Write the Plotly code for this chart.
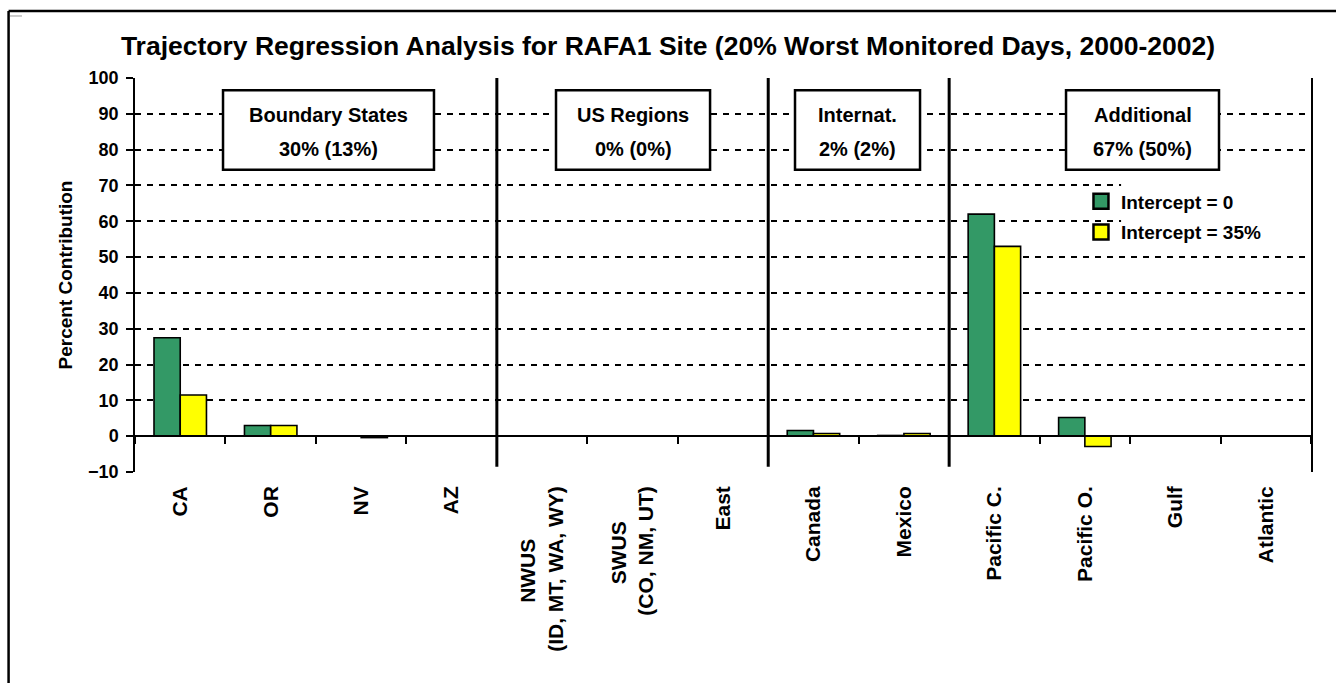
import plotly.graph_objects as go

categories = ["CA", "OR", "NV", "AZ", "NWUS<br>(ID, MT, WA, WY)", "SWUS<br>(CO, NM, UT)", "East",
              "Canada", "Mexico", "Pacific C.", "Pacific O.", "Gulf", "Atlantic"]
intercept_0 = [27.5, 3.0, 0.0, 0.0, 0.0, 0.0, 0.0, 1.6, 0.2, 62.0, 5.2, 0.0, 0.0]
intercept_35 = [11.5, 3.0, -0.4, 0.0, 0.0, 0.0, 0.0, 0.75, 0.75, 53.0, -2.9, 0.0, 0.0]
series_names = ["Intercept = 0", "Intercept = 35%"]

group_names = ["Boundary States", "US Regions", "Internat.", "Additional"]
group_shares = ["30% (13%)", "0% (0%)", "2% (2%)", "67% (50%)"]
group_sizes = [4, 3, 2, 4]

title = "Trajectory Regression Analysis for RAFA1 Site (20% Worst Monitored Days, 2000-2002)"
y_ticks = list(range(-10, 101, 10))

FONT = "Liberation Sans, Arial, sans-serif"
GREEN = "#339966"
YELLOW = "#FFFF00"
colors = [GREEN, YELLOW]


def centered_label(label):
    # centre the shorter line of a two-line (rotated) tick label on the longer one
    lines = label.split("<br>")
    if len(lines) < 2:
        return label
    longest = max(len(s) for s in lines)
    out = []
    for s in lines:
        pad = int(round((longest - len(s)) * 0.72))
        out.append(s + "\u00a0" * pad)
    return "<br>".join(out)


tick_text = [centered_label(c) for c in categories]

fig = go.Figure()
for name, vals, col in zip(series_names, [intercept_0, intercept_35], colors):
    fig.add_trace(go.Bar(x=categories, y=vals, name=name, showlegend=False,
                         marker=dict(color=col, line=dict(color="black", width=1.6))))
# legend entries (square keys)
for i, (name, col) in enumerate(zip(series_names, colors)):
    fig.add_trace(go.Scatter(x=[categories[0]], y=[None], mode="markers", name="<b>%s</b>" % name,
                             legendgroup="g%d" % i,
                             marker=dict(symbol="square", size=15, color=col,
                                         line=dict(color="black", width=2.5))))
# helper trace for the tick axis drawn at y = 0
fig.add_trace(go.Scatter(x=categories, y=[0] * len(categories), xaxis="x2", mode="markers",
                         marker=dict(opacity=0), showlegend=False, hoverinfo="skip"))

shapes = []
annotations = []
box_x = [(0.473, 2.805), (4.154, 5.857), (6.796, 8.178), (9.792, 11.483)]
start = 0
for i, n in enumerate(group_sizes):
    if i > 0:
        shapes.append(dict(type="line", xref="x", yref="y", x0=start - 0.5, x1=start - 0.5,
                           y0=-8.5, y1=100, line=dict(color="black", width=3)))
    x0, x1 = box_x[i]
    center = (x0 + x1) / 2
    shapes.append(dict(type="rect", xref="x", yref="y", x0=x0, x1=x1,
                       y0=74.4, y1=96.6, fillcolor="white", line=dict(color="black", width=2.5),
                       layer="above"))
    annotations.append(dict(x=center, y=89.8, xref="x", yref="y", text="<b>%s</b>" % group_names[i],
                            showarrow=False, font=dict(family=FONT, size=20, color="black")))
    annotations.append(dict(x=center, y=80.2, xref="x", yref="y", text="<b>%s</b>" % group_shares[i],
                            showarrow=False, font=dict(family=FONT, size=20, color="black")))
    start += n

# white legend background behind the legend text
shapes.append(dict(type="rect", xref="paper", yref="y", x0=0.8385, x1=0.999, y0=52, y1=71.5,
                   fillcolor="white", line=dict(width=0), layer="above"))

# outer frame
shapes.append(dict(type="line", xref="paper", yref="paper", x0=-0.1075, x1=1.03, y0=1.170, y1=1.170,
                   line=dict(color="black", width=2.5)))
shapes.append(dict(type="line", xref="paper", yref="paper", x0=-0.1075, x1=-0.1075, y0=1.170, y1=-0.6,
                   line=dict(color="black", width=2.5)))
shapes.append(dict(type="line", xref="paper", yref="paper", x0=-0.1063, x1=-0.0961, y0=1.1574, y1=1.1574,
                   line=dict(color="#999999", width=1)))

fig.update_layout(
    width=1336, height=683,
    margin=dict(l=135, r=25, t=78, b=211),
    paper_bgcolor="white", plot_bgcolor="white",
    font=dict(family=FONT, color="black"),
    title=dict(text="<b>%s</b>" % title, x=0.5, xanchor="center", y=0.933, yanchor="middle",
               font=dict(family=FONT, size=26.5, color="black")),
    barmode="group", bargap=0.42, bargroupgap=0,
    showlegend=True,
    legend=dict(x=0.8044, y=0.735, xanchor="left", yanchor="top", bgcolor="rgba(0,0,0,0)",
                font=dict(family=FONT, size=19, color="black"), traceorder="grouped",
                tracegroupgap=3, itemsizing="trace"),
    xaxis=dict(type="category", categoryorder="array", categoryarray=categories,
               tickmode="array", tickvals=categories, ticktext=tick_text,
               range=[-0.5, len(categories) - 0.5], showline=False, showgrid=False, zeroline=False,
               ticks="", tickangle=-90, ticklabelstandoff=9,
               tickfont=dict(family=FONT, size=21, color="black", weight="bold")),
    xaxis2=dict(type="category", categoryorder="array", categoryarray=categories, overlaying="x",
                anchor="free", position=10 / 110, range=[-0.5, len(categories) - 0.5],
                showticklabels=False, showgrid=False, zeroline=False, showline=True,
                linecolor="black", linewidth=1.5, ticks="outside", tickson="boundaries",
                ticklen=7, tickcolor="black", tickwidth=1.5),
    yaxis=dict(range=[-10, 100], tickvals=y_ticks, showline=True, linecolor="black", linewidth=1.5,
               mirror=True, ticks="outside", ticklen=7, tickcolor="black", tickwidth=1.5,
               ticklabelstandoff=4,
               showgrid=True, gridcolor="black", gridwidth=2, griddash="6px,6px",
               zeroline=True, zerolinecolor="black", zerolinewidth=1.5,
               tickfont=dict(family=FONT, size=18, color="black", weight="bold"),
               title=dict(text="<b>Percent Contribution</b>", standoff=10,
                          font=dict(family=FONT, size=19, color="black"))),
    shapes=shapes, annotations=annotations,
)

fig.write_html("out.html", config={"displayModeBar": False},
               post_script="document.body.style.margin='0px';document.body.style.overflow='hidden';")
